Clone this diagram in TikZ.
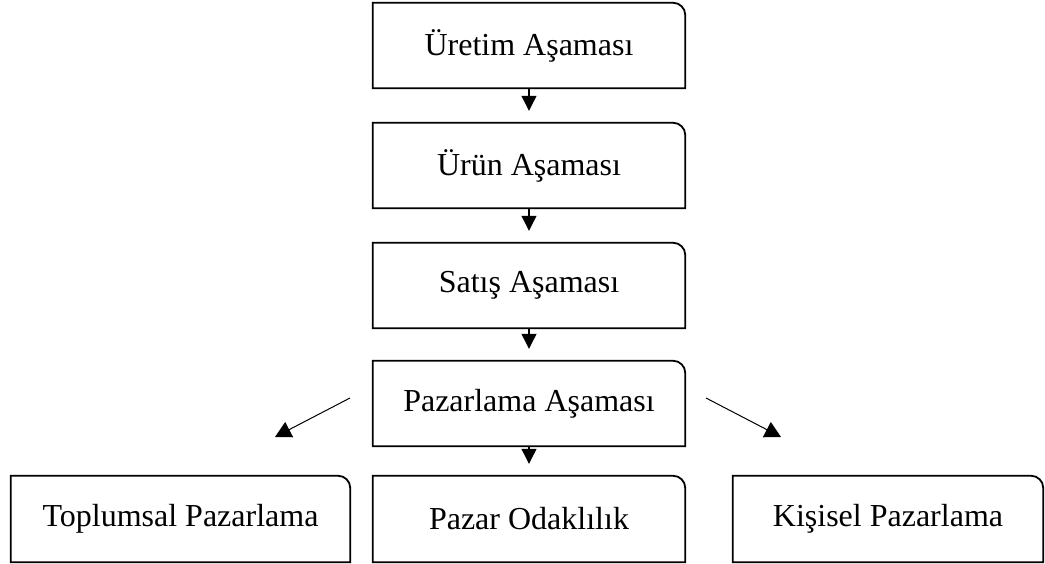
\documentclass[tikz,border=0pt]{standalone}
\usepackage{fontspec}
\setmainfont{Liberation Serif}
\usepackage{tikz}
\usetikzlibrary{arrows.meta}

\begin{document}
\begin{tikzpicture}[x=1pt,y=-1pt,
	stage/.style={minimum width=312pt, minimum height=85pt, inner sep=0pt, font=\fontsize{32}{36}\selectfont},
	boxline/.style={line width=1.8pt},
	down/.style={line width=1.2pt, -{Triangle[width=15pt,length=15pt]}, shorten >=12pt},
	side/.style={line width=1pt, -{Triangle[width=17pt,length=16pt]}}]
	\useasboundingbox (0,0) rectangle (1045,564);

	\path (529,45.5) node[stage] (uretim) {Üretim Aşaması};
	\path (529,165.5) node[stage] (urun) {Ürün Aşaması};
	\path (529,285.5) node[stage] (satis) {Satış Aşaması};
	\path (529,403.5) node[stage] (pazarlama) {Pazarlama Aşaması};

	\path (180.5,519) node[stage, minimum width=339pt, minimum height=86pt] (toplumsal) {Toplumsal Pazarlama};
	\path (529,519) node[stage, minimum height=86pt] (odak) {Pazar Odaklılık};
	\path (888,519) node[stage, minimum width=310pt, minimum height=86pt] (kisisel) {Kişisel Pazarlama};

	\foreach \n in {uretim,urun,satis,pazarlama,toplumsal,odak,kisisel}
		\draw[boxline] (\n.south west) -- (\n.north west) -- ([xshift=-12pt]\n.north east)
			arc[start angle=90, end angle=0, radius=12pt] -- (\n.south east) -- cycle;

	\draw[down] (uretim) -- (urun);
	\draw[down] (urun) -- (satis);
	\draw[down] (satis) -- (pazarlama);
	\draw[down] (pazarlama) -- (odak);

	\coordinate (solbas) at (350,398);
	\coordinate (soluc) at (275,437);
	\coordinate (sagbas) at (706,398);
	\coordinate (saguc) at (781,437);
	\draw[side] (solbas) -- (soluc);
	\draw[side] (sagbas) -- (saguc);
\end{tikzpicture}
\end{document}
